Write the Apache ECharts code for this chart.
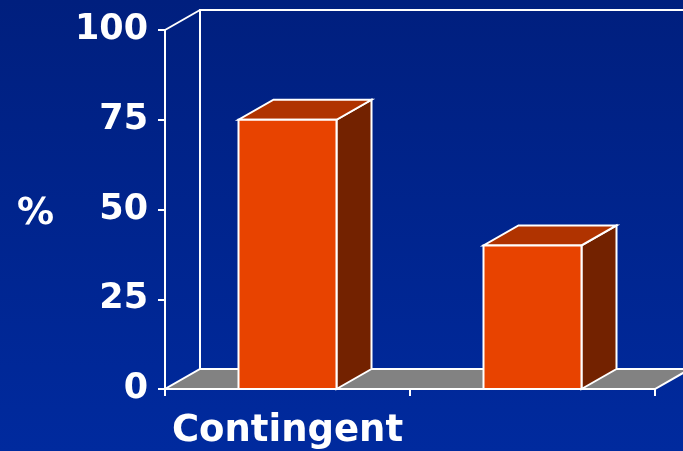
<!DOCTYPE html>
<html>
<head>
<meta charset="utf-8">
<script src="https://cdn.jsdelivr.net/npm/echarts@6/dist/echarts.min.js"></script>
<style>
  html, body { margin: 0; padding: 0; }
  #chart { width: 683px; height: 451px; }
</style>
</head>
<body>
<div id="chart"></div>
<script>
// Categories along the x axis (the second group carries no caption)
const categories = ['Contingent', ''];
// Percentage for each bar
const percentValues = [75, 40];
// Y axis tick range
const yMin = 0;
const yMax = 100;
const yStep = 25;
const yAxisTitle = '%';

// Pseudo-3D depth offsets (pixels) and bar proportion of a band
const DEPTH_X = 35;
const DEPTH_Y = 20;
const BAR_RATIO = 0.4;

const FONT = 'DejaVu Sans';
const WHITE = '#ffffff';

const chart = echarts.init(document.getElementById('chart'), null, { renderer: 'canvas' });

// Floor, back wall and side wall outline drawn from the grid rectangle
function renderFrame(params, api) {
  const cs = params.coordSys;
  const x0 = cs.x, x1 = cs.x + cs.width;
  const yt = cs.y, yb = cs.y + cs.height;
  const line = { stroke: WHITE, lineWidth: 2, fill: null };
  return {
    type: 'group',
    children: [
      {
        type: 'polygon',
        shape: { points: [[x0, yb], [x1, yb], [x1 + DEPTH_X, yb - DEPTH_Y], [x0 + DEPTH_X, yb - DEPTH_Y]] },
        style: { fill: '#828282', stroke: WHITE, lineWidth: 2, lineJoin: 'miter' }
      },
      {
        type: 'polyline',
        shape: { points: [[x0 + DEPTH_X, yb - DEPTH_Y], [x0 + DEPTH_X, yt - DEPTH_Y], [x1 + DEPTH_X, yt - DEPTH_Y]] },
        style: line
      },
      {
        type: 'polyline',
        shape: { points: [[x0, yt], [x0 + DEPTH_X, yt - DEPTH_Y]] },
        style: line
      }
    ]
  };
}

// Box-shaped bar: side face, top face and front face
function renderBox(params, api) {
  const idx = api.value(0);
  const val = api.value(1);
  const base = api.coord([idx, 0]);
  const top = api.coord([idx, val]);
  const bw = api.size([1, 0])[0] * BAR_RATIO;
  const xl = base[0] - bw / 2, xr = base[0] + bw / 2;
  const yb = base[1], yt = top[1];
  const edge = { stroke: WHITE, lineWidth: 2, lineJoin: 'miter' };
  return {
    type: 'group',
    children: [
      {
        type: 'polygon',
        shape: { points: [[xr, yb], [xr + DEPTH_X, yb - DEPTH_Y], [xr + DEPTH_X, yt - DEPTH_Y], [xr, yt]] },
        style: Object.assign({ fill: '#732200' }, edge)
      },
      {
        type: 'polygon',
        shape: { points: [[xl, yt], [xr, yt], [xr + DEPTH_X, yt - DEPTH_Y], [xl + DEPTH_X, yt - DEPTH_Y]] },
        style: Object.assign({ fill: '#b03300' }, edge)
      },
      {
        type: 'rect',
        shape: { x: xl, y: yt, width: bw, height: yb - yt },
        style: Object.assign({ fill: '#e84300' }, edge)
      }
    ]
  };
}

const option = {
  animation: false,
  backgroundColor: {
    type: 'linear', x: 0, y: 0, x2: 0, y2: 1,
    colorStops: [
      { offset: 0, color: '#001f7e' },
      { offset: 1, color: '#002a9e' }
    ]
  },
  grid: { left: 165, right: 28, top: 30, bottom: 62, containLabel: false },
  xAxis: {
    type: 'category',
    data: categories,
    boundaryGap: true,
    axisLine: { show: true, lineStyle: { color: WHITE, width: 2 } },
    axisTick: { show: true, length: 7, lineStyle: { color: WHITE, width: 2 } },
    axisLabel: {
      interval: 0,
      margin: 24,
      color: WHITE,
      fontFamily: FONT,
      fontWeight: 'bold',
      fontSize: 37
    },
    splitLine: { show: false }
  },
  yAxis: {
    type: 'value',
    min: yMin,
    max: yMax,
    interval: yStep,
    name: yAxisTitle,
    nameLocation: 'middle',
    nameRotate: 0,
    nameGap: 111,
    nameTextStyle: {
      color: WHITE,
      fontFamily: FONT,
      fontWeight: 'bold',
      fontSize: 37,
      verticalAlign: 'top',
      lineHeight: 9
    },
    axisLine: { show: true, lineStyle: { color: WHITE, width: 2 } },
    axisTick: { show: true, length: 7, lineStyle: { color: WHITE, width: 2 } },
    axisLabel: {
      margin: 17,
      color: WHITE,
      fontFamily: FONT,
      fontWeight: 'bold',
      fontSize: 35
    },
    splitLine: { show: false }
  },
  series: [
    {
      type: 'custom',
      name: 'frame',
      clip: false,
      z: 1,
      silent: true,
      renderItem: renderFrame,
      data: [[0, 0]],
      encode: { x: 0, y: 1 }
    },
    {
      type: 'custom',
      name: 'percent',
      clip: false,
      z: 3,
      renderItem: renderBox,
      data: percentValues.map((v, i) => [i, v]),
      encode: { x: 0, y: 1 }
    }
  ]
};

chart.setOption(option);
</script>
</body>
</html>
